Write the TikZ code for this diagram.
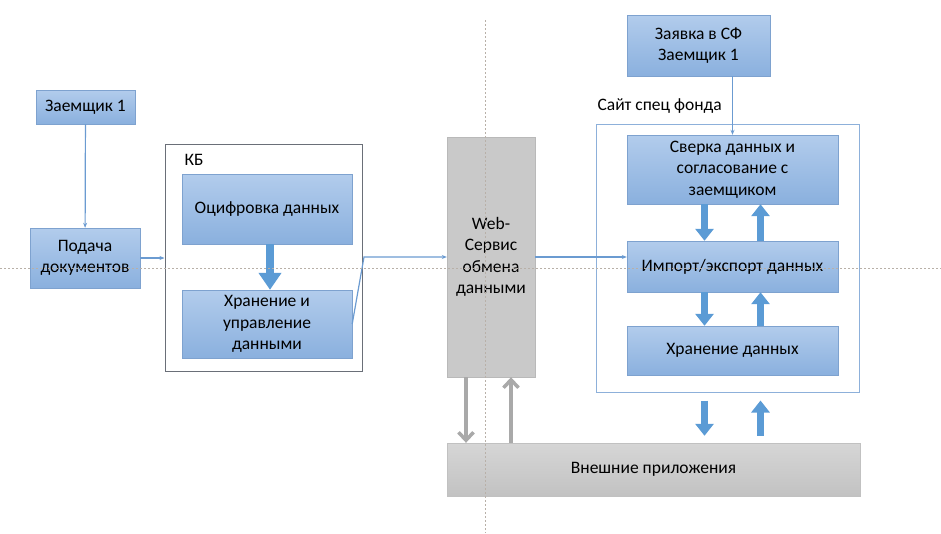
\documentclass[tikz,border=0pt]{standalone}
\usepackage{fontspec}
\setmainfont{Carlito}
\usetikzlibrary{arrows.meta}

\definecolor{boxtop}{HTML}{B2CCEC}
\definecolor{boxbot}{HTML}{8AB0DE}
\definecolor{boxline}{HTML}{7EA2CF}
\definecolor{arrblue}{HTML}{5B9BD5}
\definecolor{linblue}{HTML}{6B9BD1}
\definecolor{greytop}{HTML}{D6D6D6}
\definecolor{greybot}{HTML}{C2C2C2}
\definecolor{webgrey}{HTML}{C9C9C9}
\definecolor{arrgrey}{HTML}{A9A9A9}
\definecolor{kbline}{HTML}{6A6F78}
\definecolor{siteline}{HTML}{8DB0DA}
\definecolor{guide}{HTML}{B8B0A8}

\begin{document}
\begin{tikzpicture}[x=1pt,y=-1pt,
    font=\fontsize{17.5}{21.5}\selectfont,
    bluebox/.style={draw=boxline,top color=boxtop,bottom color=boxbot,inner sep=0pt,align=center},
    greybox/.style={draw=greytop!90!black,top color=greytop,bottom color=greybot,inner sep=0pt,align=center},
    frame/.style={draw=#1,line width=1pt,inner sep=0pt},
    thinline/.style={linblue,line width=1.2pt,-{Stealth[length=5pt,width=4pt]}},
    fatarrow/.style={arrblue,line width=7pt,-{Triangle[length=12pt,width=18pt]}},
    greyarrow/.style={arrgrey,line width=3.5pt,-{Straight Barb[length=8pt,width=15pt]}}]
            \useasboundingbox (0,0) rectangle (941,533);

            % containers
            \node[frame=kbline,minimum width=197pt,minimum height=227pt] (kb) at (263.5,257.5) {};
            \node[anchor=west] (kblabel) at (181,160) {КБ};
            \node[frame=siteline,minimum width=263pt,minimum height=268pt] (site) at (727.5,258) {};
            \node[anchor=west] (sitelabel) at (594,106) {Сайт спец фонда};

            % left side
            \node[bluebox,minimum width=99pt,minimum height=34pt] (zaem) at (85.5,107) {Заемщик 1};
            \node[bluebox,minimum width=110pt,minimum height=60pt] (podacha) at (85,258) {Подача\\документов};
            \node[bluebox,minimum width=170pt,minimum height=70pt] (ocifr) at (267,209) {Оцифровка данных};
            \node[bluebox,minimum width=170pt,minimum height=68pt] (hranupr) at (267,324) {Хранение и\\управление\\данными};

            % middle
            \node[draw=webgrey!92!black,fill=webgrey,inner sep=0pt,align=center,
                  minimum width=88pt,minimum height=240pt] (web) at (491,257) {Web-\\Сервис\\обмена\\данными};
            \node[greybox,minimum width=413pt,minimum height=53pt] (ext) at (653.5,469.5) {Внешние приложения};

            % right side
            \node[bluebox,minimum width=143pt,minimum height=61pt] (zayavka) at (698.5,45.5) {Заявка в СФ\\Заемщик 1};
            \node[bluebox,minimum width=211pt,minimum height=69pt] (sverka) at (732.5,169.5) {Сверка данных и\\согласование с\\заемщиком};
            \node[bluebox,minimum width=211pt,minimum height=51pt] (import) at (732.5,266.5) {Импорт/экспорт данных};
            \node[bluebox,minimum width=211pt,minimum height=49pt] (hrandata) at (732.5,350.5) {Хранение данных};

            % thin connectors
            \coordinate (kbout) at (364,257);
            \draw[thinline] (zaem) -- (podacha);
            \draw[thinline] (podacha.east) -- (podacha.east -| kb.west);
            \draw[thinline] (hranupr.east) -- (kbout) -- (web.west);
            \draw[thinline] (web.east) -- (web.east -| import.west);
            \draw[thinline] (sverka.north |- zayavka.south) -- (sverka.north);

            % fat arrows
            \draw[arrblue,line width=8pt,-{Triangle[length=17pt,width=22pt]}] ([xshift=3pt]ocifr.south) -- ([xshift=3pt]hranupr.north);
            \draw[fatarrow] ([xshift=-28pt]sverka.south) -- ([xshift=-28pt]import.north);
            \draw[fatarrow] ([xshift=28pt]import.north) -- ([xshift=28pt]sverka.south);
            \draw[fatarrow] ([xshift=-28pt]import.south) -- ([xshift=-28pt]hrandata.north);
            \draw[fatarrow] ([xshift=28pt]hrandata.north) -- ([xshift=28pt]import.south);
            \draw[fatarrow] ([xshift=-28pt,yshift=-8pt]site.south -| hrandata) -- ([xshift=-28pt,yshift=7pt]ext.north -| hrandata);
            \draw[fatarrow] ([xshift=28pt,yshift=7pt]ext.north -| hrandata) -- ([xshift=28pt,yshift=-8pt]site.south -| hrandata);

            % grey arrows
            \draw[greyarrow] ([xshift=-25pt]web.south) -- ([xshift=-25pt]web.south |- ext.north);
            \draw[greyarrow] ([xshift=20pt]web.south |- ext.north) -- ([xshift=20pt]web.south);

            % guide lines
            \draw[guide,line width=0.8pt,dash pattern=on 2pt off 2pt] (0,268) -- (941,268);
            \draw[guide,line width=0.8pt,dash pattern=on 2pt off 2pt] (485,20) -- (485,533);
\end{tikzpicture}
\end{document}
